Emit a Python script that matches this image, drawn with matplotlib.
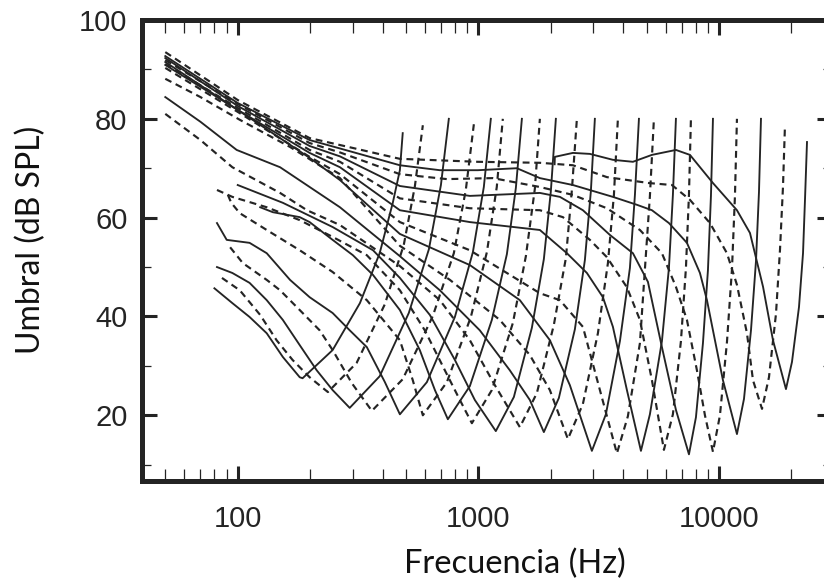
import matplotlib
matplotlib.use("Agg")
import matplotlib.pyplot as plt
from matplotlib.ticker import LogLocator, NullFormatter

# ---- data: masker frequency (Hz) and threshold level (dB SPL) per tuning curve ----
f_200 = [80, 95, 112, 132, 154, 181, 186, 248, 322, 389, 441, 472, 485]
L_200 = [45.7, 42.7, 39.9, 36.6, 31.8, 27.7, 27.5, 33.2, 42.7, 52.8, 63.0, 69.6, 77.1]

f_250 = [86, 102, 124, 145, 169, 199, 237, 312, 409, 490, 545, 588]
L_250 = [47.8, 45.3, 40.3, 35.2, 31.2, 27.7, 24.7, 30.6, 42.5, 54.5, 66.4, 78.7]

f_315 = [82, 95, 112, 132, 154, 181, 213, 248, 292, 389, 514, 623, 699, 754]
L_315 = [50.0, 48.8, 46.8, 43.3, 39.3, 34.2, 29.1, 25.1, 21.5, 27.9, 40.7, 53.6, 66.6, 80.0]

f_400 = [93, 105, 132, 150, 181, 219, 248, 298, 361, 485, 647, 791, 887, 958]
L_400 = [54.0, 50.8, 47.4, 45.3, 41.3, 37.2, 33.2, 26.5, 20.9, 27.3, 40.1, 52.8, 65.6, 78.9]

f_500 = [82, 90, 112, 132, 165, 199, 248, 292, 344, 409, 472, 611, 799, 949, 1054, 1127]
L_500 = [58.9, 55.5, 54.9, 52.8, 47.4, 43.9, 40.7, 37.2, 33.8, 26.7, 20.2, 26.7, 39.9, 53.0, 66.2, 80.0]

f_630 = [91, 94, 102, 132, 181, 248, 344, 472, 534, 588, 740, 931, 1085, 1193, 1264]
L_630 = [64.6, 63.0, 60.9, 57.5, 53.4, 49.0, 43.3, 35.2, 27.1, 20.0, 26.7, 39.9, 53.0, 66.2, 80.0]

f_800 = [124, 140, 181, 199, 248, 301, 365, 472, 571, 660, 747, 922, 1138, 1314, 1432, 1517]
L_800 = [62.1, 61.1, 60.1, 59.1, 55.5, 52.4, 48.4, 41.3, 33.2, 25.1, 19.2, 25.9, 39.3, 52.6, 66.0, 80.0]

f_1000 = [82, 95, 132, 181, 248, 344, 472, 599, 726, 838, 940, 1138, 1392, 1576, 1717, 1802]
L_1000 = [65.6, 64.2, 62.1, 59.5, 56.1, 52.4, 45.3, 37.2, 29.1, 23.1, 18.4, 25.1, 38.7, 52.2, 65.8, 80.0]

f_1250 = [100, 154, 248, 365, 472, 629, 799, 967, 1182, 1405, 1669, 1872, 2002, 2100]
L_1250 = [66.6, 63.0, 58.1, 53.4, 47.8, 40.3, 31.2, 23.1, 16.8, 23.7, 37.7, 51.6, 65.4, 80.0]

f_1600 = [50, 70, 95, 150, 194, 266, 472, 692, 922, 1171, 1488, 1751, 2060, 2311, 2448, 2568]
L_1600 = [81.0, 75.7, 70.2, 65.0, 61.5, 58.5, 50.2, 43.3, 35.2, 26.1, 17.6, 24.5, 38.3, 51.8, 65.6, 80.0]

f_2000 = [50, 70, 99, 150, 266, 472, 692, 1014, 1352, 1637, 1872, 2161, 2519, 2772, 2936, 3050]
L_2000 = [84.4, 79.4, 73.7, 70.2, 62.1, 52.2, 45.3, 37.2, 29.1, 23.1, 16.6, 23.5, 37.4, 51.4, 65.4, 80.0]

f_2500 = [50, 70, 102, 165, 266, 472, 762, 1228, 1637, 1983, 2356, 2720, 3140, 3456, 3660, 3802]
L_2500 = [88.1, 84.4, 79.8, 74.3, 68.0, 54.3, 47.4, 39.3, 32.2, 25.1, 15.2, 22.3, 36.6, 50.8, 64.6, 80.0]

f_3150 = [50, 100, 199, 266, 472, 922, 1488, 1983, 2401, 2964, 3389, 3876, 4265, 4475, 4650]
L_3150 = [90.9, 81.8, 72.1, 67.6, 56.7, 50.4, 43.3, 35.2, 26.1, 12.8, 20.2, 35.0, 49.8, 64.6, 80.0]

f_4000 = [50, 100, 199, 266, 472, 922, 1802, 2183, 2720, 3201, 3766, 4183, 4694, 4924, 5165, 5367]
L_4000 = [90.3, 81.4, 72.3, 68.8, 59.1, 53.4, 44.7, 43.3, 37.9, 25.1, 12.3, 19.8, 34.6, 49.6, 64.4, 80.0]

f_5000 = [50, 100, 199, 266, 472, 922, 1802, 2334, 2826, 3294, 3625, 4145, 4740, 5165, 5794, 6196, 6436, 6625]
L_5000 = [91.5, 81.8, 73.1, 70.2, 61.5, 59.1, 57.5, 52.8, 48.8, 43.9, 37.9, 25.1, 12.8, 20.2, 35.0, 49.8, 64.6, 80.0]

f_6300 = [50, 100, 199, 266, 472, 922, 1802, 2246, 2908, 3422, 4145, 4694, 5266, 5906, 6436, 6950, 7291, 7505, 7648]
L_6300 = [91.1, 82.2, 73.7, 71.3, 63.9, 61.9, 61.5, 60.1, 55.5, 52.0, 45.9, 39.3, 27.1, 13.0, 20.2, 35.0, 49.8, 64.6, 80.0]

f_8000 = [50, 100, 199, 266, 472, 922, 1802, 2183, 2720, 3522, 4390, 5068, 5794, 6625, 7505, 8024, 8580, 9001, 9263, 9443]
L_8000 = [92.3, 82.6, 74.5, 72.4, 66.4, 64.4, 65.0, 64.2, 61.5, 56.5, 52.8, 47.0, 33.8, 21.1, 12.1, 19.6, 34.6, 49.4, 64.4, 80.0]

f_10000 = [50, 100, 199, 266, 472, 740, 1149, 1802, 2472, 3422, 4694, 5794, 6625, 7361, 8100, 8746, 9443, 10097, 10796, 11328, 11655, 11880]
L_10000 = [91.9, 83.0, 75.1, 73.2, 68.8, 67.8, 68.0, 66.2, 64.6, 61.9, 57.5, 52.8, 46.0, 39.3, 29.1, 20.0, 12.6, 20.0, 34.8, 49.6, 64.4, 80.0]

f_12500 = [50, 100, 199, 266, 472, 692, 995, 1446, 1802, 2472, 3625, 4560, 5266, 6196, 7361, 8337, 8916, 9443, 10390, 11880, 12706, 13587, 14254, 14668, 14951]
L_12500 = [92.7, 83.2, 75.7, 74.0, 70.6, 69.6, 69.6, 70.0, 68.0, 66.6, 64.2, 62.6, 61.5, 58.9, 54.9, 48.8, 43.3, 37.2, 27.1, 16.2, 23.3, 37.2, 51.2, 65.2, 80.0]

f_16000 = [50, 100, 199, 301, 472, 995, 1802, 2472, 3422, 5117, 6377, 7576, 9175, 10796, 11880, 13075, 13850, 15100, 16140, 17258, 17931, 18455, 18810]
L_16000 = [93.5, 83.8, 76.1, 74.1, 71.9, 71.3, 71.1, 70.6, 68.2, 67.0, 66.6, 63.6, 58.9, 52.8, 46.4, 36.6, 27.1, 21.3, 27.7, 40.5, 53.4, 66.2, 78.7]

f_20000 = [2075, 2080, 2472, 2908, 3625, 4390, 5266, 6625, 7576, 9443, 11880, 13456, 15250, 16770, 18990, 20115, 21510, 22356, 22789, 23225]
L_20000 = [70.8, 72.3, 73.1, 72.9, 71.7, 71.3, 72.7, 73.7, 72.7, 67.0, 61.5, 56.9, 46.0, 35.2, 25.3, 30.8, 41.9, 52.8, 63.8, 75.3]

x_tick_values = [100, 1000, 10000]
x_tick_labels = ["100", "1000", "10000"]
y_tick_values = [20, 40, 60, 80, 100]
y_tick_labels = ["20", "40", "60", "80", "100"]
y_minor_values = [10, 30, 50, 70, 90]

solid_curves = [(f_200, L_200), (f_315, L_315), (f_500, L_500), (f_800, L_800),
                (f_1250, L_1250), (f_2000, L_2000), (f_3150, L_3150), (f_5000, L_5000),
                (f_8000, L_8000), (f_12500, L_12500), (f_20000, L_20000)]
dashed_curves = [(f_250, L_250), (f_400, L_400), (f_630, L_630), (f_1000, L_1000),
                 (f_1600, L_1600), (f_2500, L_2500), (f_4000, L_4000), (f_6300, L_6300),
                 (f_10000, L_10000), (f_16000, L_16000)]

ink = "#242424"

fig = plt.figure(figsize=(8.24, 5.81), dpi=100)
ax = fig.add_axes([0.1723, 0.1721, 0.8374, 0.7935])
ax.set_xscale("log")
ax.set_xlim(40, 29500)
ax.set_ylim(6.7, 100)

for f, L in solid_curves:
    ax.plot(f, L, color=ink, lw=1.35, solid_joinstyle="round")
for f, L in dashed_curves:
    ax.plot(f, L, color=ink, lw=1.55, dashes=(3.2, 2.2))

for sp in ax.spines.values():
    sp.set_linewidth(3.6)
    sp.set_color(ink)

ax.set_xticks(x_tick_values)
ax.set_xticklabels(x_tick_labels)
ax.xaxis.set_minor_locator(LogLocator(base=10, subs=range(2, 10), numticks=20))
ax.xaxis.set_minor_formatter(NullFormatter())
ax.set_yticks(y_tick_values)
ax.set_yticklabels(y_tick_labels)
ax.set_yticks(y_minor_values, minor=True)

ax.tick_params(which="both", direction="in", top=True, right=True, color=ink)
ax.tick_params(which="major", length=11, width=2.2)
ax.tick_params(axis="x", which="minor", length=9, width=0.9)
ax.tick_params(axis="y", which="minor", length=6.5, width=0.9)
ax.tick_params(axis="x", which="major", pad=17, labelsize=21, labelcolor=ink)
ax.tick_params(axis="y", which="major", pad=10.5, labelsize=21, labelcolor=ink)
for lab in ax.get_xticklabels() + ax.get_yticklabels():
    lab.set_family("Liberation Sans")

fig.text(515 / 824, 1 - 564 / 581, "Frecuencia (Hz)", ha="center", va="center",
         fontsize=23.5, family="Lato", color="#111111")
fig.text(31 / 824, 1 - 240 / 581, "Umbral (dB SPL)", ha="center", va="center",
         rotation=90, fontsize=23, family="Lato", color="#111111")

fig.savefig("out.png", dpi=100)
